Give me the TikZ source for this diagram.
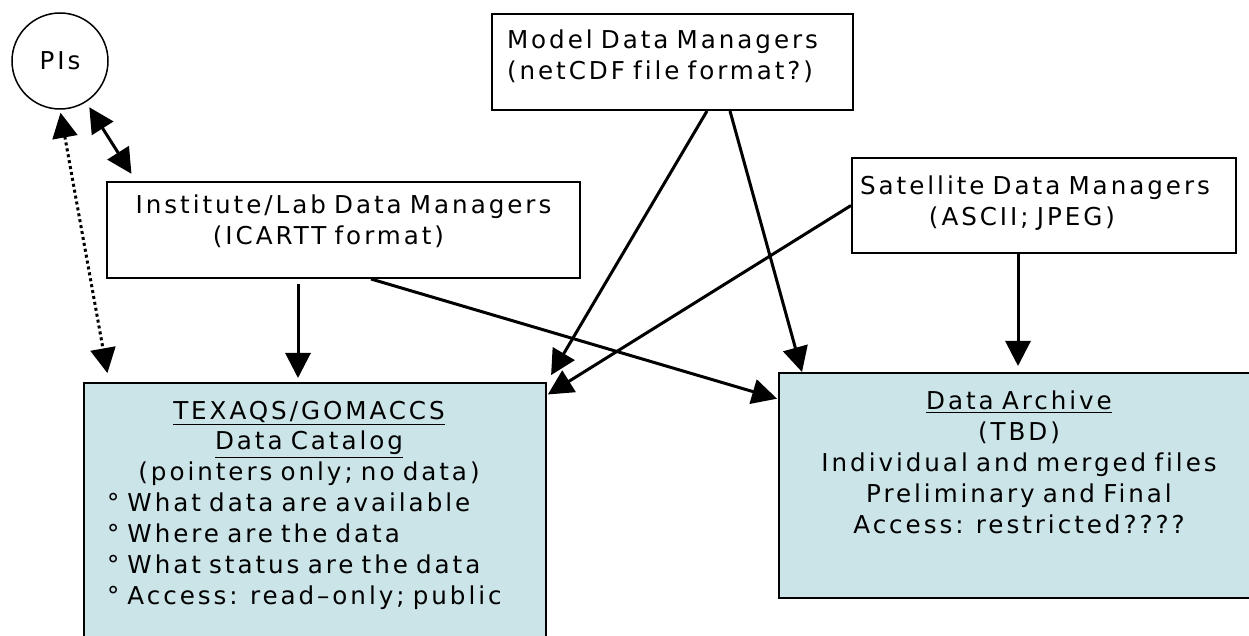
\documentclass[tikz,border=0pt]{standalone}
\usepackage{fontspec}
\setmainfont{DejaVu Sans}[LetterSpace=12,WordSpace=1.6,Ligatures=NoCommon]
\usepackage{xcolor}
\usepackage{tikz}
\usetikzlibrary{arrows.meta}
\definecolor{boxblue}{RGB}{203,228,232}

\begin{document}
\begin{tikzpicture}[font=\fontsize{14pt}{17.6pt}\selectfont]
        \clip (0,0) rectangle (24.98,12.70);
        \begin{scope}[every node/.style={draw,line width=0.04cm,inner sep=0pt}]
          \node[circle,minimum size=1.92cm,line width=0.03cm] (pis) at (1.20,11.48) {PIs};
          \node[minimum width=9.46cm,text width=9.46cm,align=center,text height=0.64cm,text depth=1.28cm] (inst) at (6.87,8.10)
            {Institute/Lab Data Managers\\(ICARTT format)\rule{0.6cm}{0pt}};
          \node[minimum width=7.22cm,text width=6.62cm,inner xsep=0.30cm,align=left,text height=0.70cm,text depth=1.22cm] (model) at (13.45,11.46)
            {Model Data Managers\\(netCDF file format?)};
          \node[minimum width=7.68cm,text width=7.68cm,align=center,text height=0.74cm,text depth=1.16cm] (sat) at (20.88,8.59)
            {Satellite Data Managers\rule{0.36cm}{0pt}\\(ASCII; JPEG)\rule{0.88cm}{0pt}};
          \node[fill=boxblue,minimum width=9.24cm,text width=9.24cm,align=center,text height=0.72cm,text depth=4.84cm,anchor=north] (cat) at (6.30,5.06)
            {\underline{TEXAQS/GOMACCS}\rule{0.24cm}{0pt}\\\underline{Data Catalog}\rule{0.24cm}{0pt}\\(pointers only; no data)\rule{0.24cm}{0pt}\\
             \makebox[8.32cm][l]{° What data are available}\\\makebox[8.32cm][l]{° Where are the data}\\
             \makebox[8.32cm][l]{° What status are the data}\\\makebox[8.32cm][l]{° Access: read–only; public}};
          \node[fill=boxblue,minimum width=9.60cm,text width=9.60cm,align=center,text height=0.74cm,text depth=3.76cm] (arch) at (20.38,2.99)
            {\underline{Data Archive}\\(TBD)\\Individual and merged files\\Preliminary and Final\\Access: restricted????};
        \end{scope}
        \coordinate (idrop) at ([xshift=3.84cm]inst.south west);
        \coordinate (sdrop) at ([xshift=3.34cm]sat.south west);
        \begin{scope}[>={Triangle[length=0.5cm,width=0.5cm]},every edge/.style={draw=black,line width=0.06cm,->}]
          \path (pis) edge[<->,shorten <=0.12cm,shorten >=0.17cm] ([xshift=0.60cm]inst.north west);
          \path (pis.south) edge[<->,dash pattern=on 0.06cm off 0.06cm,shorten <=0.06cm,shorten >=0.18cm] ([xshift=0.52cm]cat.north west);
          \path (idrop) edge[shorten <=0.10cm,shorten >=0.08cm] (idrop |- cat.north);
          \path ([xshift=5.30cm]inst.south west) edge[shorten >=0.02cm] ([yshift=-0.54cm]arch.north west);
          \path ([xshift=4.32cm]model.south west) edge[shorten >=0.16cm] (cat.north east);
          \path ([xshift=4.78cm]model.south west) edge ([xshift=0.48cm]arch.north west);
          \path (sat.west) edge[shorten >=0.02cm] ([yshift=-0.26cm]cat.north east);
          \path (sdrop) edge[shorten >=0.12cm] (sdrop |- arch.north);
        \end{scope}
\end{tikzpicture}
\end{document}
